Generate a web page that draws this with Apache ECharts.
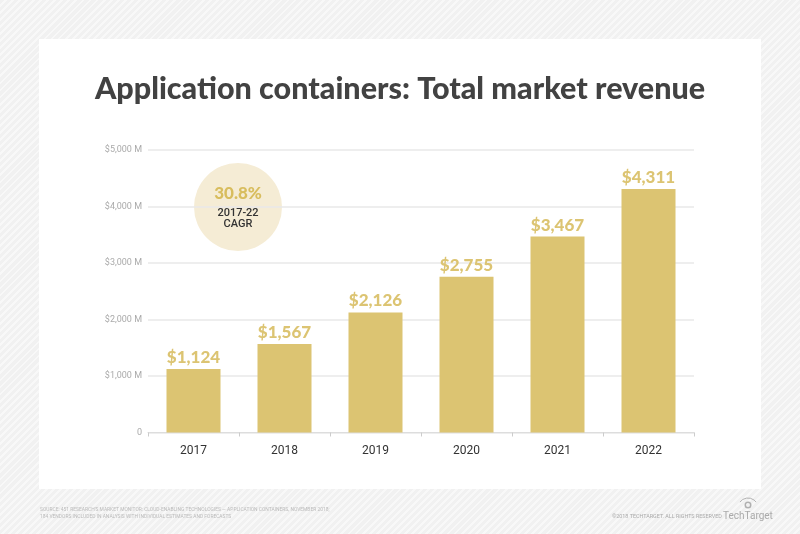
<!DOCTYPE html>
<html>
<head>
<meta charset="utf-8">
<script src="https://cdn.jsdelivr.net/npm/echarts@6/dist/echarts.min.js"></script>
<style>
html,body{margin:0;padding:0;width:800px;height:534px;overflow:hidden;}
body{background:#f1f1f1 repeating-linear-gradient(135deg,#f1f1f1 0px,#f1f1f1 3px,#f8f8f8 3px,#f8f8f8 5px);}
#card{position:absolute;left:39px;top:39px;width:722px;height:450px;background:#fff;}
#chart{position:absolute;left:0;top:0;width:800px;height:534px;}
</style>
</head>
<body>
<div id="card"></div>
<div id="chart"></div>
<script>
const categories = ['2017','2018','2019','2020','2021','2022'];
const revenue = [1124, 1567, 2126, 2755, 3467, 4311];
const yTicks = [0, 1000, 2000, 3000, 4000, 5000];
const titleText = 'Application containers: Total market revenue';
const cagrValue = '30.8%';
const cagrLabel = '2017-22\nCAGR';
const sourceText = "SOURCE: 451 RESEARCH'S MARKET MONITOR: CLOUD-ENABLING TECHNOLOGIES \u2014 APPLICATION CONTAINERS, NOVEMBER 2018;\n184 VENDORS INCLUDED IN ANALYSIS WITH INDIVIDUAL ESTIMATES AND FORECASTS";
const copyrightText = '\u00a92018 TECHTARGET. ALL RIGHTS RESERVED';

const chart = echarts.init(document.getElementById('chart'), null, {renderer:'canvas'});
const gold = '#dcc472';
chart.setOption({
  backgroundColor: 'transparent',
  animation: false,
  title: {
    text: titleText,
    left: 'center',
    top: 69,
    textStyle: {fontFamily: 'Lato', fontWeight: 900, fontSize: 30.5, color: '#424242'}
  },
  grid: {left: 148, right: 106, top: 150, bottom: 101.5},
  xAxis: {
    type: 'category',
    data: categories,
    axisLine: {lineStyle: {color: '#dddddd', width: 1}},
    axisTick: {show: true, length: 4, lineStyle: {color: '#cccccc'}},
    axisLabel: {color: '#333', fontFamily: 'Roboto', fontSize: 12, margin: 12}
  },
  yAxis: {
    type: 'value',
    min: yTicks[0],
    max: yTicks[yTicks.length - 1],
    interval: 1000,
    axisLine: {show: false},
    axisTick: {show: false},
    splitLine: {lineStyle: {color: '#e8e8e8', width: 1.5}},
    axisLabel: {
      color: '#aaaaaa', fontFamily: 'Roboto', fontSize: 9, margin: 6,
      formatter: v => v === 0 ? '0' : '$' + v.toLocaleString('en-US') + ' M'
    }
  },
  series: [{
    type: 'bar',
    data: revenue,
    barWidth: 54,
    itemStyle: {color: gold},
    label: {
      show: true,
      position: 'top',
      distance: 3,
      color: gold,
      fontFamily: 'Lato',
      fontWeight: 900,
      fontSize: 17,
      formatter: p => '$' + p.value.toLocaleString('en-US')
    }
  }],
  graphic: [
    {type: 'circle', shape: {cx: 238, cy: 207, r: 44}, style: {fill: '#f5ecd5'}, z: 0},
    {type: 'text', x: 238, y: 194, style: {text: cagrValue, fill: '#d8bd5e', font: '900 17px Lato', textAlign: 'center', textVerticalAlign: 'middle'}},
    {type: 'text', x: 238, y: 219, style: {text: cagrLabel, fill: '#333', font: '500 11px Roboto', textAlign: 'center', textVerticalAlign: 'middle', lineHeight: 11}},
    {type: 'text', x: 40, y: 507, style: {text: sourceText, fill: '#bbbbbb', font: '4.9px Roboto', lineHeight: 6.5}},
    {type: 'text', x: 612, y: 514, style: {text: copyrightText, fill: '#aaaaaa', font: '5.4px Roboto'}},
    {type: 'text', x: 723, y: 511, style: {text: 'TechTarget', fill: '#aaaaaa', font: '10px "Liberation Sans Narrow", Roboto', letterSpacing: -0.5}},
    {type: 'ring', shape: {cx: 748, cy: 505, r: 3.5, r0: 2}, style: {fill: '#b0b0b0'}},
    {type: 'arc', shape: {cx: 748, cy: 508, r: 10, startAngle: Math.PI * 1.2, endAngle: Math.PI * 1.8}, style: {stroke: '#b0b0b0', lineWidth: 1, fill: null}}
  ]
});
</script>
</body>
</html>
